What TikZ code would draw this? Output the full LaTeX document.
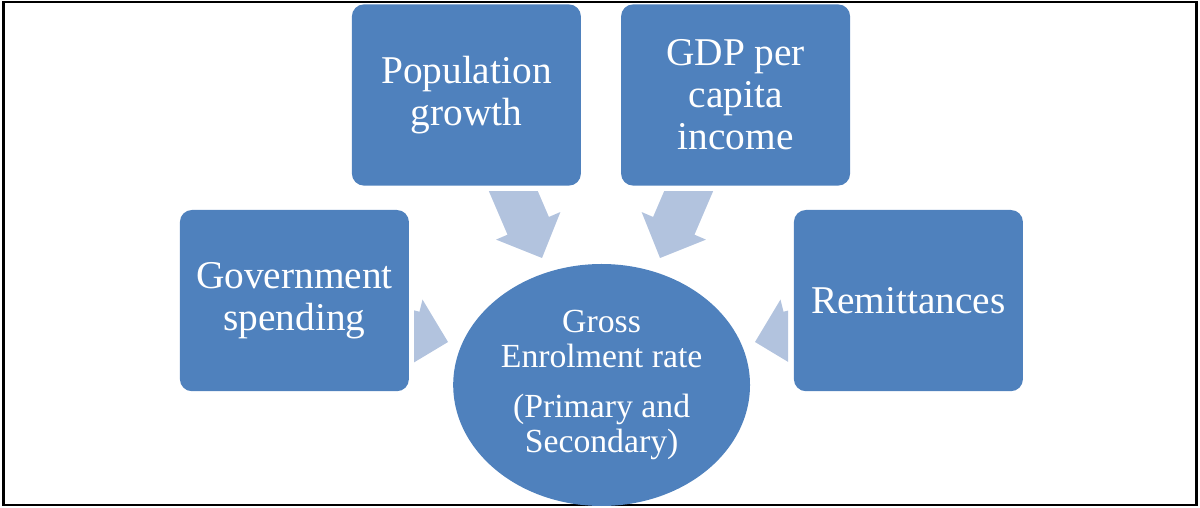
\documentclass[tikz,border=0pt]{standalone}
\usepackage{fontspec}
\setmainfont{Liberation Serif}
\usetikzlibrary{shapes.geometric,positioning}
\definecolor{boxblue}{RGB}{79,129,189}
\definecolor{arrowblue}{RGB}{178,195,222}

\begin{document}
\begin{tikzpicture}[
    factor/.style={fill=boxblue, rounded corners=0.3cm, minimum width=5.725cm,
                   minimum height=4.53cm, align=center, text=white,
                   font=\fontsize{28}{29.8}\selectfont},
    target/.style={ellipse, fill=boxblue, minimum width=7.42cm,
                   minimum height=6.05cm, align=center, text=white,
                   font=\fontsize{24}{25}\selectfont, inner sep=0pt},
    % block arrow, tip at the origin, pointing along +x
    feedarrow/.pic={
      \fill[arrowblue] (0,0) -- (-0.875,0.875) -- (-0.875,0.5625)
        -- (-2.5,0.5625) -- (-2.5,-0.5625) -- (-0.875,-0.5625)
        -- (-0.875,-0.875) -- cycle;
    },
  ]
    \useasboundingbox (0,0) rectangle (30,12.675);
    \draw[line width=1.6pt] (0.0875,0.05) rectangle (29.91,12.625);

    % Four factors around the central rate
    \node[factor] (pop) at (11.66,10.3) {Population\\growth};
    \node[factor] (gdp) at (18.39,10.3) {GDP per\\capita\\income};
    \node[factor] (gov) at (7.36,5.16) {Government\\spending};
    \node[factor] (rem) at (22.71,5.16) {Remittances};
    \node[target] (ger) at (15.04,3.05)
      {Gross\\Enrolment rate\\[11pt](Primary and\\Secondary)};

    % Arrows into the ellipse (back ends cut off near the boxes)
    \begin{scope}
      \clip (0,0) rectangle (30,7.875);
      \pic[rotate=-66.8] at (13.55,6.225) {feedarrow};
      \pic[rotate=-113.2] at (16.5,6.225) {feedarrow};
    \end{scope}
    \begin{scope}
      \clip (10.35,0) rectangle (15,12);
      \pic[rotate=-14] at (11.2,4.125) {feedarrow};
    \end{scope}
    \begin{scope}
      \clip (15,0) rectangle (19.7,12);
      \pic[rotate=194] at (18.875,4.125) {feedarrow};
    \end{scope}
  \end{tikzpicture}
\end{document}
